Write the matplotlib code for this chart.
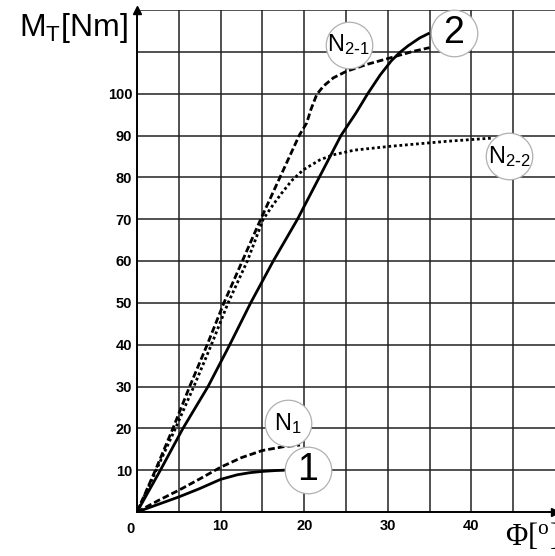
import matplotlib
matplotlib.use("Agg")
import matplotlib.pyplot as plt

plt.rcParams['font.family'] = ['Liberation Sans', 'DejaVu Sans']

# Torque vs. twist angle curves
curve1_x = [0, 2.5, 5, 7.5, 10, 12, 13.5, 15, 16.5, 17.7]
curve1_y = [0, 1.8, 3.6, 5.6, 7.8, 8.9, 9.4, 9.7, 9.9, 10.0]

n1_x = [0, 2.5, 5, 7.5, 10, 12.5, 15, 17.5, 19.5]
n1_y = [0, 2.7, 5.2, 7.9, 10.7, 13.0, 14.7, 15.6, 16.0]

curve2_x = [0, 2.8, 5.5, 8.5, 11.1, 13.6, 16.3, 19.2, 21.8, 24.4, 26.2, 27.6,
            29.1, 30.4, 31.4, 32.4, 33.8, 35.0]
curve2_y = [0, 10, 20, 30, 40, 50, 60, 70, 80, 90, 95.4, 100,
            104.5, 107.8, 109.8, 111.4, 113.3, 114.5]

n21_x = [0, 2.2, 4.3, 6.3, 8.4, 10.4, 12.6, 14.8, 17.1, 19.4, 20.3, 20.8, 21.5,
         22.3, 23.5, 25.0, 27.5, 30.2, 33.0, 35.0]
n21_y = [0, 10, 20, 30, 40, 50, 60, 70, 80, 90, 93, 96.2, 99.8,
         101.8, 103.8, 105.3, 107.0, 108.5, 110.1, 111.0]

n22_x = [0, 2.3, 4.6, 6.8, 8.9, 10.9, 13.2, 15.1, 16.3, 17.3, 18.5, 19.9, 21.9,
         23.5, 26.0, 30.2, 37.0, 42.6]
n22_y = [0, 10, 20, 30, 40, 50, 60, 70, 73.5, 76.2, 79.2, 81.8, 84.2,
         85.4, 86.5, 87.4, 88.6, 89.4]

# Circled curve labels
label_text = ['1', r'$\mathregular{N_1}$', '2', r'$\mathregular{N_{2\text{-}1}}$',
              r'$\mathregular{N_{2\text{-}2}}$']
label_x = [20.4, 18.1, 37.9, 25.3, 44.5]
label_y = [10.0, 21.2, 114.6, 111.7, 85.0]
label_size = [27, 17, 27, 17, 17]

x_grid = [5, 10, 15, 20, 25, 30, 35, 40, 45]
x_tick_labels = ['', '10', '', '20', '', '30', '', '40', '']
y_grid = [10, 20, 30, 40, 50, 60, 70, 80, 90, 100, 110, 120]
y_tick_labels = ['10', '20', '30', '40', '50', '60', '70', '80', '90', '100', '', '']

W, H = 555, 556
fig = plt.figure(figsize=(W / 100, H / 100), dpi=100)
ax = fig.add_axes([137 / W, (H - 512) / H, 418 / W, 502 / H])
ax.set_xlim(0, 50)
ax.set_ylim(0, 120)

ax.set_xticks(x_grid)
ax.set_xticklabels(x_tick_labels, fontsize=10.5, fontweight='bold')
ax.set_yticks(y_grid)
ax.set_yticklabels(y_tick_labels, fontsize=10.5, fontweight='bold')
ax.tick_params(axis='both', length=0)
ax.tick_params(axis='x', pad=5)
ax.tick_params(axis='y', pad=3.5)
ax.grid(True, color='#222222', linewidth=1.1)
ax.set_axisbelow(True)

for side in ['top', 'right']:
    ax.spines[side].set_visible(False)
for side in ['left', 'bottom']:
    ax.spines[side].set_linewidth(1.4)
    ax.spines[side].set_color('black')

ax.text(-0.3, -2.4, '0', fontsize=10.5, fontweight='bold', ha='right', va='top')

# axis arrows
ax.plot(1, 0, '>k', markersize=6, transform=ax.transAxes, clip_on=False)
ax.plot(0, 1, '^k', markersize=6, transform=ax.transAxes, clip_on=False)

lw = 2.0
ax.plot(curve1_x, curve1_y, color='black', lw=lw, solid_capstyle='butt',
        solid_joinstyle='round', zorder=3)
ax.plot(curve2_x, curve2_y, color='black', lw=lw, solid_capstyle='butt',
        solid_joinstyle='round', zorder=3)
ax.plot(n1_x, n1_y, color='black', lw=lw, dashes=(2.4, 1.1),
        dash_capstyle='butt', zorder=3)
ax.plot(n21_x, n21_y, color='black', lw=lw, dashes=(2.4, 1.1),
        dash_capstyle='butt', zorder=3)
ax.plot(n22_x, n22_y, color='black', lw=lw, dashes=(1, 1),
        dash_capstyle='butt', zorder=3)

for t, x, y, s in zip(label_text, label_x, label_y, label_size):
    ax.plot(x, y, 'o', markersize=33.5, markerfacecolor='white',
            markeredgecolor='#b0b0b0', markeredgewidth=0.9, zorder=4, clip_on=False)
    ax.text(x, y, t, fontsize=s, ha='center', va='center', zorder=5)

# axis titles
fig.text(128 / W, 1 - 36 / H, r'$\mathregular{M_T[Nm]}$', fontsize=23,
         ha='right', va='baseline')
fig.text(505 / W, 1 - 545 / H, r'$\mathregular{Φ[^o]}$', fontsize=22,
         family='Liberation Serif', ha='left', va='baseline')

fig.savefig('out.png', dpi=100)
